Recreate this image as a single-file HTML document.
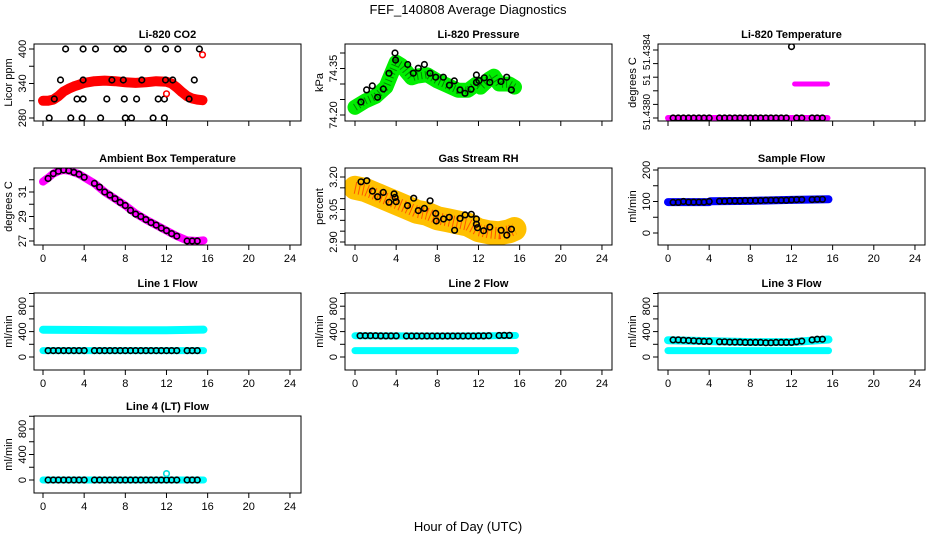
<!DOCTYPE html>
<html><head><meta charset="utf-8"><style>
html,body{margin:0;padding:0;background:#fff;}
svg{display:block;font-family:"Liberation Sans",Arial,sans-serif;}
</style></head><body>
<svg id="chart" width="936" height="540" viewBox="0 0 936 540" xmlns="http://www.w3.org/2000/svg">
<rect x="0" y="0" width="936" height="540" fill="#fff"/>
<text x="468" y="14" text-anchor="middle" font-size="13">FEF_140808  Average Diagnostics</text>
<text x="468" y="531" text-anchor="middle" font-size="13">Hour of Day (UTC)</text>
</svg>
<script>
// shared circle times (hourly averages)
const ptT = [0.5,1,1.5,2,2.5,3,3.5,4,5,5.5,6,6.5,7,7.5,8,8.5,9,9.5,10,10.5,11,11.5,12,12.5,13,14,14.5,15];
const xTicks = [0,4,8,12,16,20,24];

// CO2
const co2BandT = [0,0.5,1,1.5,2,2.5,3,3.5,4,5,6,7,8,9,10,11,12,12.5,13,13.5,14,14.5,15,15.5];
const co2BandV = [310,310,312,318,326,331,335,338,341,344,345,344,342,341,342,344,343,340,333,325,318,314,312,311];
const co2PtT = [2.2,3.9,5.1,7.2,7.8,10.2,11.9,13.1,15.2, 1.7,3.9,6.7,7.8,9.6,11.9,12.6,14.7, 1.1,3.3,3.9,6.2,7.9,9.1,11.2,11.8,14.2, 0.6,2.7,3.8,5.6,8.0,8.6,10.7,11.8];
const co2PtV = [400,400,400,400,400,400,400,400,400, 346,346,346,346,346,346,346,346, 313,313,313,313,313,313,313,313,313, 280,280,280,280,280,280,280,280];
const co2OutT = [15.5,12.0];
const co2OutV = [390,322];

// Pressure
const prBandT = [0,1,2,3,3.5,4,4.5,5,5.5,6,7,8,9,10,11,11.8,12.2,13,13.5,14,15,15.5];
const prBandV = [74.225,74.245,74.26,74.29,74.33,74.37,74.36,74.34,74.32,74.325,74.33,74.31,74.295,74.28,74.28,74.30,74.29,74.315,74.325,74.30,74.30,74.29];
const prPtT = [0.58,1.13,1.68,2.2,2.75,3.3,3.89,3.95,5.12,5.67,6.15,6.74,7.29,7.84,8.58,9.17,9.65,10.2,10.69,11.27,11.8,11.8,12.05,12.57,13.1,14.19,14.74,15.2];
const prPtV = [74.242,74.281,74.294,74.257,74.284,74.335,74.40,74.377,74.363,74.335,74.351,74.363,74.335,74.322,74.322,74.296,74.31,74.281,74.27,74.283,74.329,74.305,74.311,74.32,74.305,74.308,74.322,74.281];

// Li-820 temperature
const ltBandT = [0,15.5];
const ltBandV = [51.4380,51.4380];
const ltBand2T = [12.3,15.5];
const ltBand2V = [51.4382,51.4382];
const ltPtV = [51.4380,51.4380,51.4380,51.4380,51.4380,51.4380,51.4380,51.4380,51.4380,51.4380,51.4380,51.4380,51.4380,51.4380,51.4380,51.4380,51.4380,51.4380,51.4380,51.4380,51.4380,51.4380,51.43842,51.4380,51.4380,51.4380,51.4380,51.4380];

// Ambient box temperature
const abBandT = [0,0.5,1,1.5,2,2.5,3,3.5,4,5,6,7,8,9,10,11,12,13,14,15,15.6];
const abBandV = [31.85,32.15,32.5,32.7,32.8,32.75,32.6,32.45,32.2,31.7,31.0,30.45,29.9,29.25,28.75,28.3,27.85,27.4,27.05,27.0,27.05];
const abPtV = [32.1,32.5,32.7,32.8,32.75,32.6,32.45,32.2,31.7,31.4,31.0,30.75,30.45,30.15,29.9,29.5,29.2,29.0,28.75,28.5,28.3,28.05,27.85,27.6,27.4,27.0,27.0,27.0];

// Gas stream RH
const rhBandT = [0,1,2,3,4,5,6,7,8,9,10,11,12,13,14,15,15.5];
const rhBandV = [3.15,3.14,3.12,3.10,3.08,3.06,3.04,3.03,3.01,3.00,2.99,2.98,2.955,2.945,2.94,2.95,2.96];
const rhPtT = [0.58,1.15,1.69,2.2,2.75,3.3,3.8,3.9,4.0,5.1,5.7,6.15,6.74,7.3,7.84,7.9,8.6,9.16,9.68,10.2,10.7,11.3,11.8,11.8,11.9,12.5,13.1,14.2,14.75,15.2];
const rhPtV = [3.178,3.183,3.135,3.109,3.129,3.083,3.122,3.106,3.086,3.068,3.102,3.045,3.055,3.09,3.032,2.997,3.006,3.014,2.954,3.009,3.025,3.028,3.006,2.982,2.966,2.952,2.969,2.954,2.932,2.959];

// Sample flow
const sfBandT = [0,4,4.1,8,10.5,12,15.6];
const sfBandV = [98,98,101,102,104,105,107];
const sfPtV = [97,97,100,98,98,98,98,100,101,101,102,102,102,103,103,103,103,104,104,104,104,104,105,106,106,106,107,107];

// Line flows
const lnBandT = [0,4,8,12,15.6];
const l1TopV = [430,425,422,420,432];
const l1BotV = [100,100,100,100,100];
const l1PtV = ptT.map(()=>100);
const l2TopV = [335,332,330,332,338];
const l2BotV = [100,100,100,100,100];
const l2PtV = [335,335,335,335,333,333,333,333,330,330,330,330,330,330,330,330,330,330,330,330,330,330,332,333,335,338,340,340];
const l3TopV = [265,250,235,235,275];
const l3BotV = [100,100,100,100,100];
const l3PtV = [270,270,265,260,255,250,245,245,240,240,235,235,235,230,230,230,230,225,225,230,230,230,230,240,250,270,280,280];
const l4BotV = [0,0,0,0,0];
const l4PtV = ptT.map(()=>0);
const l4OutT = [12];
const l4OutV = [100];

const svg = document.getElementById('chart');
const NS = 'http://www.w3.org/2000/svg';
const colX0 = [43,355,668], boxL = [34,345,658], rowT = [44,168,293,416];
const BOXW = 267, BOXH = 77, XS = 10.29;

function el(tag, attrs, parent){
  const e = document.createElementNS(NS, tag);
  for (const k in attrs) e.setAttribute(k, attrs[k]);
  (parent||svg).appendChild(e);
  return e;
}

function makePanel(cfg){
  const c = cfg.col, r = cfg.row;
  const g = el('g', {});
  
  
  const bx = boxL[c], by = rowT[r];
  const xMap = t => colX0[c] + t*XS;
  const yMap = v => cfg.p1 + (v - cfg.v1) * (cfg.p2 - cfg.p1) / (cfg.v2 - cfg.v1);
  const clipId = 'clip' + cfg.name;
  const cp = el('clipPath', {id: clipId}, g);
  el('rect', {x: bx, y: by, width: BOXW, height: BOXH}, cp);
  const dg = el('g', {'clip-path': 'url(#' + clipId + ')'}, g);
  (cfg.bands||[]).forEach(b => {
    const pts = b.t.map((t,i) => xMap(t).toFixed(1) + ',' + yMap(b.v[i]).toFixed(1)).join(' ');
    const pl = el('polyline', {points: pts, fill: 'none', stroke: b.color, 'stroke-width': b.w, 'stroke-linecap': 'round', 'stroke-linejoin': 'round'}, dg);
    
    
    if (b.color2) el('polyline', {points: pts, fill: 'none', stroke: b.color2, 'stroke-width': b.w*0.5, 'stroke-dasharray': '1 3', 'stroke-linejoin': 'round'}, dg);
  });
  (cfg.points||[]).forEach(p => {
    p.t.forEach((t,i) => {
      const ci = el('circle', {cx: xMap(t).toFixed(1), cy: yMap(p.v[i]).toFixed(1), r: p.r||2.8, fill: 'none', stroke: p.color, 'stroke-width': 1.6}, dg);
      
      
    });
  });
  el('rect', {x: bx, y: by, width: BOXW, height: BOXH, fill: 'none', stroke: '#000', 'stroke-width': 1}, g);
  const tt = el('text', {x: bx + BOXW/2, y: by - 6, 'text-anchor': 'middle', 'font-size': 11, 'font-weight': 'bold'}, g);
  tt.textContent = cfg.title;
  
  
  const yb = by + BOXH;
  xTicks.forEach(t => {
    el('line', {x1: xMap(t), x2: xMap(t), y1: yb, y2: yb + 5, stroke: '#000'}, g);
    if (cfg.xlabels) {
      const tx = el('text', {x: xMap(t), y: yb + 17, 'text-anchor': 'middle', 'font-size': 11}, g);
      tx.textContent = t;
      
      
    }
  });
  cfg.ticks.forEach(v => el('line', {x1: bx - 5, x2: bx, y1: yMap(v), y2: yMap(v), stroke: '#000'}, g));
  cfg.labels.forEach(l => {
    const yy = l.p !== undefined ? l.p : yMap(l.v);
    const tx = el('text', {x: 0, y: 0, 'text-anchor': 'middle', 'font-size': cfg.lfs||11, transform: 'translate(' + (bx - 8) + ',' + yy + ') rotate(-90)'}, g);
    tx.textContent = l.s;
    
    
  });
  const yl = el('text', {x: 0, y: 0, 'text-anchor': 'middle', 'font-size': 11, transform: 'translate(' + (bx - 22) + ',' + (by + BOXH/2) + ') rotate(-90)'}, g);
  yl.textContent = cfg.ylab;
  
  
}

const lineTicks = [0,200,400,600,800,1000];
const lineLabels = [{v:0,s:'0'},{v:400,s:'400'},{v:800,s:'800'}];

makePanel({name:'co2-panel', col:0,row:0,title:'Li-820 CO2', ylab:'Licor ppm', v1:280,p1:118,v2:400,p2:49,
  ticks:[280,310,340,370,400], labels:[{v:280,s:'280'},{v:340,s:'340'},{v:400,s:'400'}],
  bands:[{name:'co2-band',t:co2BandT,v:co2BandV,color:'#ff0000',w:10}],
  points:[{name:'co2-point',t:co2PtT,v:co2PtV,color:'#000'},{name:'co2-outlier',t:co2OutT,v:co2OutV,color:'#ff0000'}]});

makePanel({name:'pressure-panel', col:1,row:0,title:'Li-820 Pressure', ylab:'kPa', v1:74.20,p1:115,v2:74.35,p2:68.5,
  ticks:[74.20,74.25,74.30,74.35,74.40], labels:[{v:74.20,s:'74.20'},{v:74.35,s:'74.35'}],
  bands:[{name:'pressure-band',t:prBandT,v:prBandV,color:'#00ee00',w:15,color2:'#008800'}],
  points:[{name:'pressure-point',t:prPtT,v:prPtV,color:'#000'}]});

makePanel({name:'li820-temp-panel', col:2,row:0,title:'Li-820 Temperature', ylab:'degrees C', v1:51.4380,p1:118,v2:51.4384,p2:50,lfs:10,
  ticks:[51.4380,51.43808,51.43816,51.43824,51.43832,51.4384], labels:[{p:52,s:'51.4384'},{p:80,s:'51'},{p:112,s:'51.4380'}],
  bands:[{name:'li820-temp-band',t:ltBandT,v:ltBandV,color:'#ff00ff',w:6},{name:'li820-temp-band-high',t:ltBand2T,v:ltBand2V,color:'#ff00ff',w:5}],
  points:[{name:'li820-temp-point',t:ptT,v:ltPtV,color:'#000'}]});

makePanel({name:'ambient-temp-panel', col:0,row:1,title:'Ambient Box Temperature', ylab:'degrees C', v1:27,p1:241,v2:31,p2:192,xlabels:true,
  ticks:[27,28,29,30,31,32], labels:[{v:27,s:'27'},{v:29,s:'29'},{v:31,s:'31'}],
  bands:[{name:'ambient-temp-band',t:abBandT,v:abBandV,color:'#ff00ff',w:8}],
  points:[{name:'ambient-temp-point',t:ptT,v:abPtV,color:'#000'}]});

makePanel({name:'rh-panel', col:1,row:1,title:'Gas Stream RH', ylab:'percent', v1:2.90,p1:242,v2:3.20,p2:177,xlabels:true,
  ticks:[2.90,2.95,3.00,3.05,3.10,3.15,3.20], labels:[{v:2.90,s:'2.90'},{v:3.05,s:'3.05'},{v:3.20,s:'3.20'}],
  bands:[{name:'rh-band',t:rhBandT,v:rhBandV,color:'#ffc000',w:24,color2:'#ff5500'}],
  points:[{name:'rh-point',t:rhPtT,v:rhPtV,color:'#000'}]});

makePanel({name:'sample-flow-panel', col:2,row:1,title:'Sample Flow', ylab:'ml/min', v1:0,p1:233,v2:200,p2:170,xlabels:true,
  ticks:[0,50,100,150,200], labels:[{v:0,s:'0'},{v:100,s:'100'},{v:200,s:'200'}],
  bands:[{name:'sample-flow-band',t:sfBandT,v:sfBandV,color:'#0000ff',w:8}],
  points:[{name:'sample-flow-point',t:ptT,v:sfPtV,color:'#000'}]});

makePanel({name:'line1-panel', col:0,row:2,title:'Line 1 Flow', ylab:'ml/min', v1:0,p1:357,v2:400,p2:331.6,xlabels:true,
  ticks:lineTicks, labels:lineLabels,
  bands:[{name:'line1-top-band',t:lnBandT,v:l1TopV,color:'#00ffff',w:8},{name:'line1-bottom-band',t:lnBandT,v:l1BotV,color:'#00ffff',w:7}],
  points:[{name:'line1-point',t:ptT,v:l1PtV,color:'#000'}]});

makePanel({name:'line2-panel', col:1,row:2,title:'Line 2 Flow', ylab:'ml/min', v1:0,p1:357,v2:400,p2:331.6,xlabels:true,
  ticks:lineTicks, labels:lineLabels,
  bands:[{name:'line2-top-band',t:lnBandT,v:l2TopV,color:'#00ffff',w:7},{name:'line2-bottom-band',t:lnBandT,v:l2BotV,color:'#00ffff',w:7}],
  points:[{name:'line2-point',t:ptT,v:l2PtV,color:'#000'}]});

makePanel({name:'line3-panel', col:2,row:2,title:'Line 3 Flow', ylab:'ml/min', v1:0,p1:357,v2:400,p2:331.6,xlabels:true,
  ticks:lineTicks, labels:lineLabels,
  bands:[{name:'line3-top-band',t:lnBandT,v:l3TopV,color:'#00ffff',w:8},{name:'line3-bottom-band',t:lnBandT,v:l3BotV,color:'#00ffff',w:7}],
  points:[{name:'line3-point',t:ptT,v:l3PtV,color:'#000'}]});

makePanel({name:'line4-panel', col:0,row:3,title:'Line 4 (LT) Flow', ylab:'ml/min', v1:0,p1:480,v2:800,p2:429,xlabels:true,
  ticks:lineTicks, labels:lineLabels,
  bands:[{name:'line4-band',t:lnBandT,v:l4BotV,color:'#00ffff',w:7}],
  points:[{name:'line4-point',t:ptT,v:l4PtV,color:'#000'},{name:'line4-outlier',t:l4OutT,v:l4OutV,color:'#00dddd'}]});
</script>
</body></html>
